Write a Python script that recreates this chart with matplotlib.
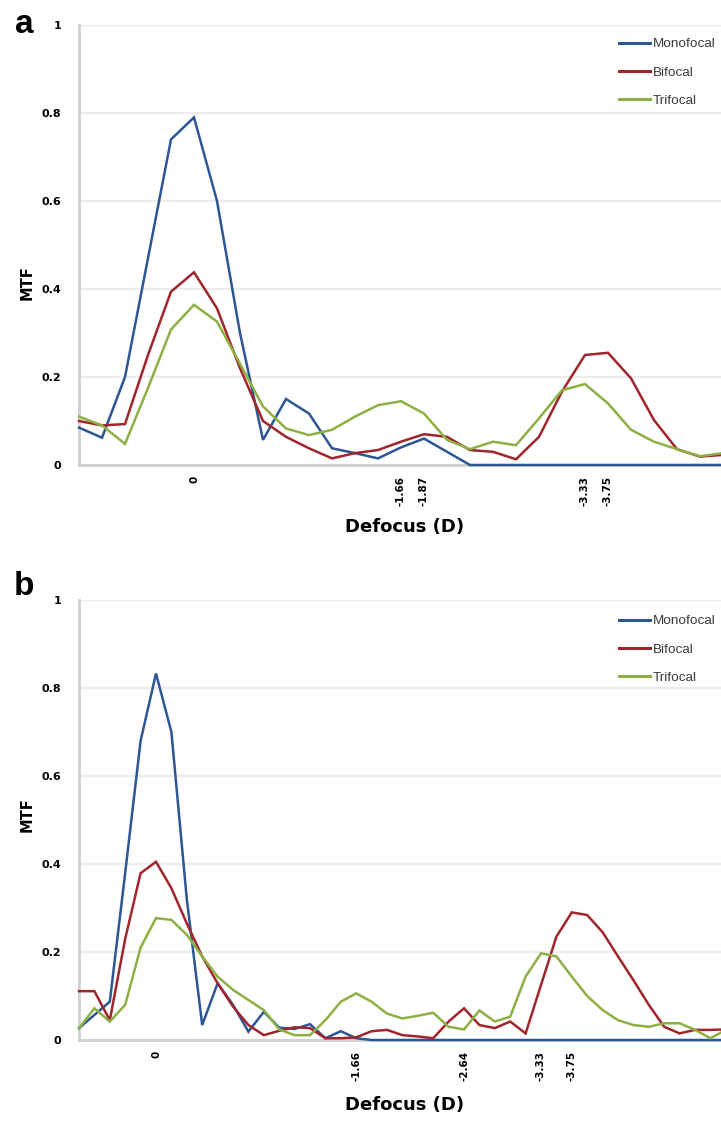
import matplotlib
matplotlib.use("Agg")
import matplotlib.pyplot as plt
import numpy as np

# ---------------- data ----------------
series_names = ["Monofocal", "Bifocal", "Trifocal"]
series_colors = ["#2c5694", "#a1252c", "#8cb043"]

# Panel a (29 defocus steps)
a_mono = [0.085, 0.062, 0.20, 0.47, 0.74, 0.79, 0.60, 0.30, 0.057, 0.15, 0.117, 0.038,
          0.027, 0.015, 0.04, 0.06, 0.03, 0.0, 0.0, 0.0, 0.0, 0.0, 0.0, 0.0, 0.0, 0.0,
          0.0, 0.0, 0.0]
a_bi = [0.10, 0.09, 0.093, 0.25, 0.394, 0.438, 0.356, 0.22, 0.10, 0.064, 0.038, 0.015,
        0.027, 0.034, 0.053, 0.07, 0.064, 0.034, 0.03, 0.013, 0.064, 0.167, 0.25, 0.255,
        0.197, 0.102, 0.036, 0.019, 0.023]
a_tri = [0.11, 0.09, 0.048, 0.175, 0.308, 0.364, 0.326, 0.23, 0.133, 0.083, 0.068, 0.08,
         0.11, 0.136, 0.145, 0.117, 0.057, 0.036, 0.053, 0.045, 0.106, 0.17, 0.184, 0.14,
         0.08, 0.053, 0.036, 0.02, 0.027]
a_tick_pos = [5, 14, 15, 22, 23]
a_tick_labels = ["0", "-1.66", "-1.87", "-3.33", "-3.75"]

# Panel b (43 defocus steps)
b_mono = [0.027, 0.057, 0.087, 0.38, 0.68, 0.833, 0.70, 0.32, 0.034, 0.129, 0.08, 0.019,
          0.064, 0.028, 0.025, 0.036, 0.004, 0.02, 0.004, 0.0, 0.0, 0.0, 0.0, 0.0, 0.0,
          0.0, 0.0, 0.0, 0.0, 0.0, 0.0, 0.0, 0.0, 0.0, 0.0, 0.0, 0.0, 0.0, 0.0, 0.0,
          0.0, 0.0, 0.0]
b_bi = [0.111, 0.111, 0.045, 0.23, 0.379, 0.405, 0.345, 0.265, 0.19, 0.129, 0.076, 0.034,
        0.011, 0.021, 0.029, 0.027, 0.004, 0.004, 0.006, 0.02, 0.023, 0.011, 0.008, 0.004,
        0.042, 0.072, 0.034, 0.027, 0.042, 0.015, 0.125, 0.235, 0.29, 0.284, 0.245, 0.19,
        0.136, 0.08, 0.03, 0.015, 0.023, 0.023, 0.024]
b_tri = [0.027, 0.072, 0.042, 0.08, 0.21, 0.277, 0.273, 0.239, 0.19, 0.144, 0.114, 0.091,
         0.068, 0.024, 0.011, 0.011, 0.045, 0.087, 0.106, 0.087, 0.06, 0.049, 0.055, 0.062,
         0.03, 0.024, 0.067, 0.042, 0.053, 0.144, 0.197, 0.19, 0.144, 0.10, 0.068, 0.045,
         0.034, 0.03, 0.038, 0.038, 0.023, 0.004, 0.023]
b_tick_pos = [5, 18, 25, 30, 32]
b_tick_labels = ["0", "-1.66", "-2.64", "-3.33", "-3.75"]

y_ticks = [0, 0.2, 0.4, 0.6, 0.8, 1.0]
y_tick_labels = ["0", "0.2", "0.4", "0.6", "0.8", "1"]

# ---------------- figure ----------------
W, H = 721, 1122
fig = plt.figure(figsize=(W / 100, H / 100), dpi=100)

FONT = "DejaVu Sans"


def make_panel(top_px, bottom_px, series, tick_pos, tick_labels, xmax, letter,
               letter_base, mtf_y, xlabel_y, leg_top_px):
    left_px = 79
    ax = fig.add_axes([left_px / W, 1 - bottom_px / H, (W - left_px) / W,
                       (bottom_px - top_px) / H])
    for vals, name, col in zip(series, series_names, series_colors):
        ax.plot(np.arange(len(vals)), vals, color=col, lw=1.8, label=name,
                solid_joinstyle="miter", clip_on=False, zorder=3)
    ax.set_xlim(0, xmax)
    ax.set_ylim(0, 1.0)
    ax.set_yticks(y_ticks)
    ax.set_yticklabels(y_tick_labels, fontsize=8, fontweight="bold", family=FONT)
    ax.set_xticks(tick_pos)
    ax.set_xticklabels(tick_labels, rotation=90, fontsize=7.5, fontweight="bold",
                       family=FONT)
    ax.tick_params(axis="both", length=0)
    ax.tick_params(axis="y", pad=13)
    ax.tick_params(axis="x", pad=8)
    for s in ["top", "right"]:
        ax.spines[s].set_visible(False)
    ax.spines["left"].set_color("#cfcfcf")
    ax.spines["left"].set_linewidth(2)
    ax.spines["bottom"].set_color("#cfcfcf")
    ax.spines["bottom"].set_linewidth(2)
    ax.grid(axis="y", color="#ececec", lw=1.6)
    ax.set_axisbelow(True)

    leg_y = (bottom_px - leg_top_px) / (bottom_px - top_px)
    leg = ax.legend(loc="upper left", bbox_to_anchor=((619 - left_px) / (W - left_px), leg_y),
                    frameon=False, handlelength=2.3, handletextpad=0.2,
                    labelspacing=1.17, borderpad=0, borderaxespad=0,
                    prop={"family": "Liberation Sans", "size": 9.7})
    for t in leg.get_texts():
        t.set_color("#3a3a3a")
    for h in leg.get_lines():
        h.set_linewidth(2.2)

    fig.text(24 / W, 1 - letter_base / H, letter, fontsize=24, fontweight="bold",
             family="Liberation Sans", ha="center", va="baseline")
    fig.text(27 / W, 1 - mtf_y / H, "MTF", fontsize=10.5, fontweight="bold",
             family=FONT, rotation=90, ha="center", va="center")
    fig.text(405 / W, 1 - xlabel_y / H, "Defocus (D)", fontsize=13, fontweight="bold",
             family=FONT, ha="center", va="center")
    return ax


make_panel(25, 465, [a_mono, a_bi, a_tri], a_tick_pos, a_tick_labels,
           (721 - 79) / 23.0, "a", 33, 283, 527, 38)
make_panel(600, 1040, [b_mono, b_bi, b_tri], b_tick_pos, b_tick_labels,
           (721 - 79) / 15.4, "b", 595, 815, 1105, 615)

fig.savefig("out.png", dpi=100)
